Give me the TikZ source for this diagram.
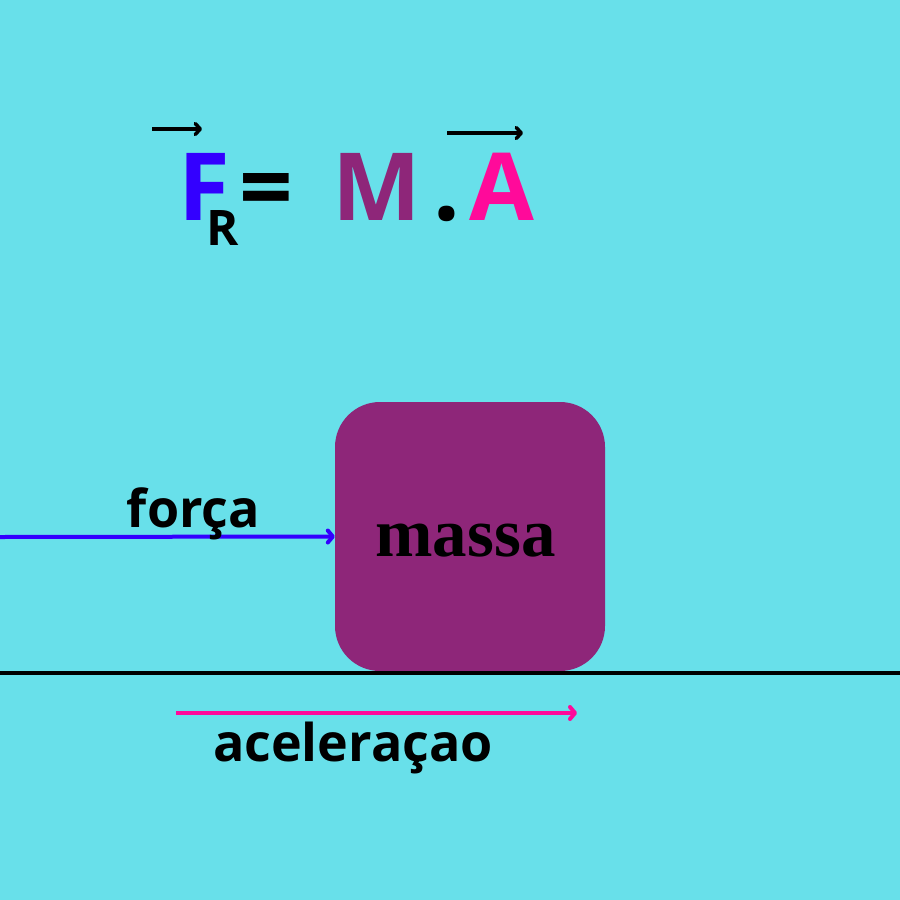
\documentclass[tikz,border=0pt]{standalone}
\usepackage{fontspec}
\setmainfont{Open Sans}
\newfontfamily\massafont{Liberation Serif}
\usetikzlibrary{arrows.meta}
\definecolor{bgc}{HTML}{68E0EA}
\definecolor{fblue}{HTML}{3300FF}
\definecolor{mpurple}{HTML}{8E2679}
\definecolor{apink}{HTML}{FF0A9A}
\tikzset{
  big/.style={inner sep=0pt, anchor=base, font=\bfseries\fontsize{94}{100}\selectfont},
  sub/.style={inner sep=0pt, anchor=base, font=\bfseries\fontsize{49}{55}\selectfont},
  lbl/.style={inner sep=0pt, anchor=base, font=\bfseries\fontsize{52}{60}\selectfont},
  vecarrow/.style={line width=3.5pt, -{Straight Barb[length=5pt,width=11pt,round]}},
  bigarrow/.style={line width=4pt, -{Straight Barb[length=5pt,width=12pt,round]}},
  massbox/.style={fill=mpurple, draw=none, rounded corners=45pt, minimum width=270pt, minimum height=269pt, inner sep=0pt}
}
\begin{document}
\begin{tikzpicture}[x=1pt,y=-1pt]
\fill[bgc] (0,0) rectangle (900,900);
\useasboundingbox (0,0) rectangle (900,900);
% formula
\node[big, text=fblue] (F) at (204,220) {F};
\node[sub] (R) at (222.5,245) {R};
\node[big] (eq) at (266,220) {=};
\node[big, text=mpurple] (M) at (376.5,220) {M};
\node[big] (dot) at (447,220) {.};
\node[big, text=apink] (A) at (502,220) {A};
\coordinate (v1s) at (152,129);
\coordinate (v1e) at (202,129);
\coordinate (v2s) at (447,133);
\coordinate (v2e) at (523,133);
\draw[vecarrow] (v1s) -- (v1e);
\draw[vecarrow] (v2s) -- (v2e);
% box
\node[massbox] (box) at (470,536.5) {};
\node[inner sep=0pt, anchor=base, font=\massafont\bfseries\fontsize{69}{75}\selectfont] (massa) at (465.5,556) {massa};
% force
\coordinate (fstart) at (0,537);
\draw[bigarrow, fblue] (fstart) -- (box.west);
\node[lbl] (forca) at (193.5,527) {força};
% ground
\coordinate (gl) at (0,673);
\coordinate (gr) at (900,673);
\draw[line width=4pt] (gl) -- (gr);
% acceleration
\coordinate (as) at (176,713);
\coordinate (ae) at (577,713);
\draw[bigarrow, apink] (as) -- (ae);
\node[lbl] (acel) at (353,761) {aceleraçao};
\end{tikzpicture}
\end{document}
